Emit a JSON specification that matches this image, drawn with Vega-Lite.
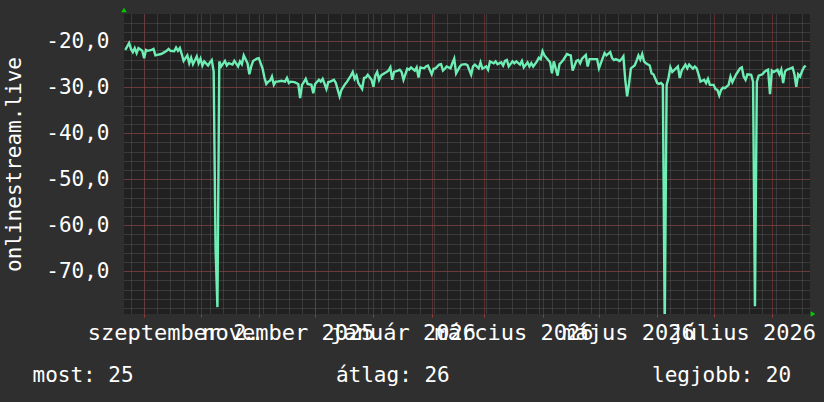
{
  "$schema": "https://vega.github.io/schema/vega-lite/v6.json",
  "width": 686,
  "height": 300,
  "autosize": "none",
  "padding": {"left": 124, "top": 14, "right": 14, "bottom": 88},
  "background": "#2f2f2f",
  "config": {
    "view": {"fill": "#212121", "stroke": null},
    "axis": {
      "domain": false,
      "labelFont": "DejaVu Sans Mono",
      "titleFont": "DejaVu Sans Mono",
      "labelColor": "#ffffff",
      "titleColor": "#ffffff",
      "labelFontSize": 21,
      "titleFontSize": 21,
      "titleFontWeight": "normal",
      "labelFontWeight": "normal",
      "ticks": false,
      "tickSize": 0,
      "labels": false,
      "grid": false,
      "title": null
    }
  },
  "resolve": {"axis": {"x": "independent", "y": "independent"}},
  "layer": [
    {
      "data": {
        "values": [
          {"t": "2025-08-22", "v": -21.9}, {"t": "2025-08-24", "v": -20.4}, {"t": "2025-08-25", "v": -21.7}, {"t": "2025-08-26", "v": -22.4},
          {"t": "2025-08-27", "v": -21.5}, {"t": "2025-08-28", "v": -22.6}, {"t": "2025-08-29", "v": -21.5}, {"t": "2025-08-31", "v": -22.1},
          {"t": "2025-09-01", "v": -23.7}, {"t": "2025-09-02", "v": -21.9}, {"t": "2025-09-03", "v": -22.1}, {"t": "2025-09-05", "v": -21.9},
          {"t": "2025-09-06", "v": -21.7}, {"t": "2025-09-07", "v": -23.1}, {"t": "2025-09-08", "v": -23.0}, {"t": "2025-09-10", "v": -22.8},
          {"t": "2025-09-11", "v": -22.6}, {"t": "2025-09-13", "v": -22.1}, {"t": "2025-09-14", "v": -21.7}, {"t": "2025-09-15", "v": -22.1},
          {"t": "2025-09-17", "v": -22.2}, {"t": "2025-09-18", "v": -21.4}, {"t": "2025-09-19", "v": -22.1}, {"t": "2025-09-20", "v": -21.5},
          {"t": "2025-09-21", "v": -22.8}, {"t": "2025-09-22", "v": -24.3}, {"t": "2025-09-24", "v": -23.1}, {"t": "2025-09-25", "v": -24.8},
          {"t": "2025-09-26", "v": -23.6}, {"t": "2025-09-27", "v": -25.0}, {"t": "2025-09-29", "v": -23.3}, {"t": "2025-09-30", "v": -24.8},
          {"t": "2025-10-01", "v": -23.8}, {"t": "2025-10-02", "v": -25.3}, {"t": "2025-10-03", "v": -24.4}, {"t": "2025-10-05", "v": -25.3},
          {"t": "2025-10-06", "v": -24.6}, {"t": "2025-10-07", "v": -24.1}, {"t": "2025-10-08", "v": -26.6}, {"t": "2025-10-09", "v": -65.0},
          {"t": "2025-10-10", "v": -77.8}, {"t": "2025-10-11", "v": -24.4}, {"t": "2025-10-12", "v": -25.5}, {"t": "2025-10-14", "v": -24.3},
          {"t": "2025-10-15", "v": -25.3}, {"t": "2025-10-16", "v": -24.8}, {"t": "2025-10-18", "v": -25.1}, {"t": "2025-10-19", "v": -24.3},
          {"t": "2025-10-21", "v": -25.5}, {"t": "2025-10-22", "v": -24.4}, {"t": "2025-10-23", "v": -25.0}, {"t": "2025-10-24", "v": -23.1},
          {"t": "2025-10-26", "v": -24.8}, {"t": "2025-10-27", "v": -27.2}, {"t": "2025-10-28", "v": -25.5}, {"t": "2025-10-29", "v": -24.3},
          {"t": "2025-10-31", "v": -23.8}, {"t": "2025-11-01", "v": -23.7}, {"t": "2025-11-03", "v": -25.9}, {"t": "2025-11-04", "v": -27.9},
          {"t": "2025-11-05", "v": -29.3}, {"t": "2025-11-06", "v": -28.8}, {"t": "2025-11-07", "v": -28.6}, {"t": "2025-11-08", "v": -27.7},
          {"t": "2025-11-09", "v": -29.5}, {"t": "2025-11-10", "v": -28.8}, {"t": "2025-11-11", "v": -28.8}, {"t": "2025-11-13", "v": -28.6},
          {"t": "2025-11-15", "v": -28.8}, {"t": "2025-11-16", "v": -28.0}, {"t": "2025-11-17", "v": -29.1}, {"t": "2025-11-18", "v": -28.8},
          {"t": "2025-11-20", "v": -28.9}, {"t": "2025-11-22", "v": -29.3}, {"t": "2025-11-23", "v": -32.4}, {"t": "2025-11-24", "v": -29.5},
          {"t": "2025-11-25", "v": -28.9}, {"t": "2025-11-26", "v": -28.2}, {"t": "2025-11-27", "v": -29.3}, {"t": "2025-11-29", "v": -29.5},
          {"t": "2025-11-30", "v": -31.3}, {"t": "2025-12-01", "v": -29.3}, {"t": "2025-12-03", "v": -28.4}, {"t": "2025-12-04", "v": -28.8},
          {"t": "2025-12-05", "v": -28.2}, {"t": "2025-12-07", "v": -30.4}, {"t": "2025-12-08", "v": -28.9}, {"t": "2025-12-09", "v": -28.8},
          {"t": "2025-12-11", "v": -28.4}, {"t": "2025-12-12", "v": -29.1}, {"t": "2025-12-14", "v": -32.0}, {"t": "2025-12-15", "v": -30.6},
          {"t": "2025-12-17", "v": -29.3}, {"t": "2025-12-18", "v": -28.8}, {"t": "2025-12-20", "v": -27.5}, {"t": "2025-12-21", "v": -26.7},
          {"t": "2025-12-22", "v": -28.2}, {"t": "2025-12-23", "v": -27.5}, {"t": "2025-12-24", "v": -29.1}, {"t": "2025-12-26", "v": -30.4},
          {"t": "2025-12-27", "v": -28.0}, {"t": "2025-12-28", "v": -27.9}, {"t": "2025-12-29", "v": -27.3}, {"t": "2025-12-31", "v": -28.4},
          {"t": "2026-01-01", "v": -29.9}, {"t": "2026-01-02", "v": -27.5}, {"t": "2026-01-03", "v": -26.7}, {"t": "2026-01-04", "v": -28.4},
          {"t": "2026-01-05", "v": -27.5}, {"t": "2026-01-06", "v": -27.2}, {"t": "2026-01-08", "v": -26.7}, {"t": "2026-01-09", "v": -26.4},
          {"t": "2026-01-10", "v": -25.7}, {"t": "2026-01-11", "v": -28.4}, {"t": "2026-01-12", "v": -26.7}, {"t": "2026-01-14", "v": -26.4},
          {"t": "2026-01-15", "v": -26.2}, {"t": "2026-01-16", "v": -26.7}, {"t": "2026-01-17", "v": -28.4}, {"t": "2026-01-19", "v": -26.0},
          {"t": "2026-01-20", "v": -26.2}, {"t": "2026-01-21", "v": -25.7}, {"t": "2026-01-23", "v": -26.4}, {"t": "2026-01-24", "v": -25.7},
          {"t": "2026-01-25", "v": -27.9}, {"t": "2026-01-26", "v": -25.7}, {"t": "2026-01-28", "v": -25.9}, {"t": "2026-01-29", "v": -25.5},
          {"t": "2026-01-30", "v": -25.3}, {"t": "2026-02-01", "v": -27.2}, {"t": "2026-02-02", "v": -26.0}, {"t": "2026-02-03", "v": -25.9},
          {"t": "2026-02-05", "v": -25.1}, {"t": "2026-02-06", "v": -25.0}, {"t": "2026-02-07", "v": -26.4}, {"t": "2026-02-08", "v": -26.0},
          {"t": "2026-02-09", "v": -25.5}, {"t": "2026-02-11", "v": -25.9}, {"t": "2026-02-12", "v": -24.8}, {"t": "2026-02-13", "v": -23.8},
          {"t": "2026-02-14", "v": -27.0}, {"t": "2026-02-16", "v": -25.5}, {"t": "2026-02-17", "v": -25.1}, {"t": "2026-02-19", "v": -25.0},
          {"t": "2026-02-20", "v": -25.2}, {"t": "2026-02-22", "v": -27.3}, {"t": "2026-02-23", "v": -25.5}, {"t": "2026-02-24", "v": -25.1},
          {"t": "2026-02-26", "v": -25.9}, {"t": "2026-02-27", "v": -24.6}, {"t": "2026-02-28", "v": -26.0}, {"t": "2026-03-02", "v": -25.5},
          {"t": "2026-03-03", "v": -26.2}, {"t": "2026-03-04", "v": -24.4}, {"t": "2026-03-06", "v": -24.8}, {"t": "2026-03-07", "v": -24.4},
          {"t": "2026-03-08", "v": -25.0}, {"t": "2026-03-10", "v": -24.6}, {"t": "2026-03-11", "v": -25.3}, {"t": "2026-03-12", "v": -24.3},
          {"t": "2026-03-13", "v": -24.1}, {"t": "2026-03-14", "v": -25.5}, {"t": "2026-03-16", "v": -24.4}, {"t": "2026-03-17", "v": -24.8},
          {"t": "2026-03-18", "v": -24.4}, {"t": "2026-03-20", "v": -25.1}, {"t": "2026-03-21", "v": -24.3}, {"t": "2026-03-22", "v": -25.7},
          {"t": "2026-03-24", "v": -24.6}, {"t": "2026-03-25", "v": -25.5}, {"t": "2026-03-26", "v": -24.8}, {"t": "2026-03-27", "v": -25.5},
          {"t": "2026-03-29", "v": -24.4}, {"t": "2026-03-30", "v": -23.6}, {"t": "2026-03-31", "v": -23.9}, {"t": "2026-04-01", "v": -22.2},
          {"t": "2026-04-02", "v": -23.1}, {"t": "2026-04-04", "v": -24.1}, {"t": "2026-04-05", "v": -24.6}, {"t": "2026-04-06", "v": -27.0},
          {"t": "2026-04-07", "v": -24.4}, {"t": "2026-04-09", "v": -27.5}, {"t": "2026-04-10", "v": -25.0}, {"t": "2026-04-11", "v": -24.6},
          {"t": "2026-04-12", "v": -24.1}, {"t": "2026-04-14", "v": -22.8}, {"t": "2026-04-15", "v": -23.0}, {"t": "2026-04-16", "v": -23.1},
          {"t": "2026-04-17", "v": -26.4}, {"t": "2026-04-19", "v": -24.3}, {"t": "2026-04-20", "v": -24.1}, {"t": "2026-04-21", "v": -24.8},
          {"t": "2026-04-22", "v": -23.8}, {"t": "2026-04-24", "v": -23.0}, {"t": "2026-04-25", "v": -25.5}, {"t": "2026-04-26", "v": -23.9},
          {"t": "2026-04-27", "v": -23.9}, {"t": "2026-04-29", "v": -23.9}, {"t": "2026-04-30", "v": -23.9}, {"t": "2026-05-01", "v": -25.9},
          {"t": "2026-05-03", "v": -23.7}, {"t": "2026-05-04", "v": -22.6}, {"t": "2026-05-05", "v": -23.1}, {"t": "2026-05-07", "v": -22.4},
          {"t": "2026-05-08", "v": -23.7}, {"t": "2026-05-09", "v": -24.1}, {"t": "2026-05-10", "v": -23.9}, {"t": "2026-05-12", "v": -24.3},
          {"t": "2026-05-13", "v": -23.9}, {"t": "2026-05-14", "v": -23.3}, {"t": "2026-05-15", "v": -28.4}, {"t": "2026-05-16", "v": -32.0},
          {"t": "2026-05-17", "v": -29.3}, {"t": "2026-05-18", "v": -25.9}, {"t": "2026-05-20", "v": -25.3}, {"t": "2026-05-21", "v": -24.3},
          {"t": "2026-05-22", "v": -23.1}, {"t": "2026-05-23", "v": -24.0}, {"t": "2026-05-24", "v": -22.8}, {"t": "2026-05-25", "v": -24.4},
          {"t": "2026-05-26", "v": -24.8}, {"t": "2026-05-28", "v": -25.3}, {"t": "2026-05-29", "v": -27.0}, {"t": "2026-05-30", "v": -27.2},
          {"t": "2026-06-01", "v": -29.1}, {"t": "2026-06-02", "v": -29.3}, {"t": "2026-06-03", "v": -29.1}, {"t": "2026-06-04", "v": -29.5},
          {"t": "2026-06-05", "v": -82.0}, {"t": "2026-06-06", "v": -29.5}, {"t": "2026-06-07", "v": -28.0}, {"t": "2026-06-08", "v": -25.7},
          {"t": "2026-06-09", "v": -26.7}, {"t": "2026-06-11", "v": -25.9}, {"t": "2026-06-12", "v": -25.5}, {"t": "2026-06-13", "v": -28.0},
          {"t": "2026-06-14", "v": -26.4}, {"t": "2026-06-16", "v": -25.1}, {"t": "2026-06-17", "v": -25.9}, {"t": "2026-06-18", "v": -25.1},
          {"t": "2026-06-20", "v": -26.0}, {"t": "2026-06-21", "v": -25.5}, {"t": "2026-06-22", "v": -25.9}, {"t": "2026-06-23", "v": -27.2},
          {"t": "2026-06-24", "v": -28.8}, {"t": "2026-06-26", "v": -28.4}, {"t": "2026-06-27", "v": -29.1}, {"t": "2026-06-28", "v": -28.2},
          {"t": "2026-06-29", "v": -29.5}, {"t": "2026-07-01", "v": -29.5}, {"t": "2026-07-02", "v": -30.4}, {"t": "2026-07-03", "v": -30.6},
          {"t": "2026-07-04", "v": -31.8}, {"t": "2026-07-05", "v": -30.6}, {"t": "2026-07-06", "v": -30.1}, {"t": "2026-07-07", "v": -30.2},
          {"t": "2026-07-09", "v": -29.5}, {"t": "2026-07-10", "v": -27.7}, {"t": "2026-07-11", "v": -28.9}, {"t": "2026-07-13", "v": -27.2},
          {"t": "2026-07-14", "v": -26.6}, {"t": "2026-07-15", "v": -25.9}, {"t": "2026-07-16", "v": -25.7}, {"t": "2026-07-17", "v": -27.7},
          {"t": "2026-07-18", "v": -28.4}, {"t": "2026-07-19", "v": -27.2}, {"t": "2026-07-21", "v": -27.3}, {"t": "2026-07-22", "v": -28.8},
          {"t": "2026-07-23", "v": -77.6}, {"t": "2026-07-24", "v": -28.8}, {"t": "2026-07-25", "v": -27.5}, {"t": "2026-07-27", "v": -27.2},
          {"t": "2026-07-28", "v": -26.7}, {"t": "2026-07-29", "v": -26.4}, {"t": "2026-07-30", "v": -26.2}, {"t": "2026-07-31", "v": -31.5},
          {"t": "2026-08-01", "v": -26.4}, {"t": "2026-08-02", "v": -26.7}, {"t": "2026-08-04", "v": -26.2}, {"t": "2026-08-05", "v": -27.2},
          {"t": "2026-08-06", "v": -26.2}, {"t": "2026-08-07", "v": -29.1}, {"t": "2026-08-08", "v": -26.6}, {"t": "2026-08-09", "v": -26.2},
          {"t": "2026-08-11", "v": -25.9}, {"t": "2026-08-12", "v": -25.7}, {"t": "2026-08-13", "v": -27.2}, {"t": "2026-08-14", "v": -29.9},
          {"t": "2026-08-15", "v": -27.2}, {"t": "2026-08-16", "v": -27.7}, {"t": "2026-08-17", "v": -26.6}, {"t": "2026-08-18", "v": -25.7},
          {"t": "2026-08-19", "v": -25.3}
        ]
      },
      "mark": {"type": "line", "color": "#6eeeb4", "strokeWidth": 2.4, "clip": true},
      "encoding": {
        "x": {
          "field": "t",
          "type": "temporal",
          "scale": {
            "type": "utc",
            "domain": [
              {"year": 2025, "month": 8, "date": 21, "hours": 7, "utc": true},
              {"year": 2026, "month": 8, "date": 21, "hours": 7, "utc": true}
            ]
          },
          "axis": {
            "orient": "bottom",
            "grid": true,
            "gridColor": "#555555",
            "gridDash": [1, 1],
            "values": [
              {"year": 2025, "month": 8, "date": 25, "utc": true},
              {"year": 2025, "month": 9, "date": 1, "utc": true}, {"year": 2025, "month": 9, "date": 8, "utc": true}, {"year": 2025, "month": 9, "date": 15, "utc": true}, {"year": 2025, "month": 9, "date": 22, "utc": true}, {"year": 2025, "month": 9, "date": 29, "utc": true},
              {"year": 2025, "month": 10, "date": 6, "utc": true}, {"year": 2025, "month": 10, "date": 13, "utc": true}, {"year": 2025, "month": 10, "date": 20, "utc": true}, {"year": 2025, "month": 10, "date": 27, "utc": true},
              {"year": 2025, "month": 11, "date": 3, "utc": true}, {"year": 2025, "month": 11, "date": 10, "utc": true}, {"year": 2025, "month": 11, "date": 17, "utc": true}, {"year": 2025, "month": 11, "date": 24, "utc": true},
              {"year": 2025, "month": 12, "date": 1, "utc": true}, {"year": 2025, "month": 12, "date": 8, "utc": true}, {"year": 2025, "month": 12, "date": 15, "utc": true}, {"year": 2025, "month": 12, "date": 22, "utc": true}, {"year": 2025, "month": 12, "date": 29, "utc": true},
              {"year": 2026, "month": 1, "date": 5, "utc": true}, {"year": 2026, "month": 1, "date": 12, "utc": true}, {"year": 2026, "month": 1, "date": 19, "utc": true}, {"year": 2026, "month": 1, "date": 26, "utc": true},
              {"year": 2026, "month": 2, "date": 2, "utc": true}, {"year": 2026, "month": 2, "date": 9, "utc": true}, {"year": 2026, "month": 2, "date": 16, "utc": true}, {"year": 2026, "month": 2, "date": 23, "utc": true},
              {"year": 2026, "month": 3, "date": 2, "utc": true}, {"year": 2026, "month": 3, "date": 9, "utc": true}, {"year": 2026, "month": 3, "date": 16, "utc": true}, {"year": 2026, "month": 3, "date": 23, "utc": true}, {"year": 2026, "month": 3, "date": 30, "utc": true},
              {"year": 2026, "month": 4, "date": 6, "utc": true}, {"year": 2026, "month": 4, "date": 13, "utc": true}, {"year": 2026, "month": 4, "date": 20, "utc": true}, {"year": 2026, "month": 4, "date": 27, "utc": true},
              {"year": 2026, "month": 5, "date": 4, "utc": true}, {"year": 2026, "month": 5, "date": 11, "utc": true}, {"year": 2026, "month": 5, "date": 18, "utc": true}, {"year": 2026, "month": 5, "date": 25, "utc": true},
              {"year": 2026, "month": 6, "date": 1, "utc": true}, {"year": 2026, "month": 6, "date": 8, "utc": true}, {"year": 2026, "month": 6, "date": 15, "utc": true}, {"year": 2026, "month": 6, "date": 22, "utc": true}, {"year": 2026, "month": 6, "date": 29, "utc": true},
              {"year": 2026, "month": 7, "date": 6, "utc": true}, {"year": 2026, "month": 7, "date": 13, "utc": true}, {"year": 2026, "month": 7, "date": 20, "utc": true}, {"year": 2026, "month": 7, "date": 27, "utc": true},
              {"year": 2026, "month": 8, "date": 3, "utc": true}, {"year": 2026, "month": 8, "date": 10, "utc": true}, {"year": 2026, "month": 8, "date": 17, "utc": true}
            ]
          }
        },
        "y": {
          "field": "v",
          "type": "quantitative",
          "scale": {"domain": [-79.3, -14.1], "nice": false, "zero": false},
          "axis": {
            "orient": "left",
            "grid": true,
            "gridColor": "#555555",
            "gridDash": [1, 1],
            "values": [-78, -76, -74, -72, -70, -68, -66, -64, -62, -60, -58, -56, -54, -52, -50, -48, -46, -44, -42, -40, -38, -36, -34, -32, -30, -28, -26, -24, -22, -20, -18, -16]
          }
        }
      }
    },
    {
      "data": {"values": [{}]},
      "mark": {"type": "point", "shape": "triangle-up", "filled": true, "color": "#00cc00", "opacity": 1, "size": 30, "yOffset": -4, "clip": false},
      "encoding": {
        "x": {
          "datum": {"year": 2025, "month": 8, "date": 21, "hours": 7, "utc": true},
          "type": "temporal",
          "axis": {
            "orient": "bottom",
            "grid": true,
            "gridColor": "#9a3c3c",
            "gridDash": [1, 1],
            "ticks": true,
            "tickSize": 3,
            "tickColor": "#9a3c3c",
            "values": [
              {"year": 2025, "month": 9, "date": 1, "utc": true}, {"year": 2025, "month": 10, "date": 1, "utc": true}, {"year": 2025, "month": 11, "date": 1, "utc": true}, {"year": 2025, "month": 12, "date": 1, "utc": true},
              {"year": 2026, "month": 1, "date": 1, "utc": true}, {"year": 2026, "month": 2, "date": 1, "utc": true}, {"year": 2026, "month": 3, "date": 1, "utc": true}, {"year": 2026, "month": 4, "date": 1, "utc": true},
              {"year": 2026, "month": 5, "date": 1, "utc": true}, {"year": 2026, "month": 6, "date": 1, "utc": true}, {"year": 2026, "month": 7, "date": 1, "utc": true}, {"year": 2026, "month": 8, "date": 1, "utc": true}
            ]
          }
        },
        "y": {
          "datum": -14.1,
          "type": "quantitative",
          "axis": {
            "orient": "left",
            "grid": true,
            "gridColor": "#9a3c3c",
            "gridDash": [1, 1],
            "labels": true,
            "labelAlign": "right",
            "labelBaseline": "middle",
            "labelPadding": 15,
            "values": [-70, -60, -50, -40, -30, -20],
            "labelExpr": "'-' + replace(format(abs(datum.value), '.1f'), '.', ',')",
            "title": "onlinestream.live",
            "titleAngle": -90,
            "titleAlign": "center",
            "titleBaseline": "alphabetic",
            "titleX": -104,
            "titleY": 150
          }
        }
      }
    },
    {
      "data": {"values": [{}]},
      "mark": {"type": "point", "shape": "triangle-right", "filled": true, "color": "#00cc00", "opacity": 1, "size": 30, "xOffset": 3, "clip": false},
      "encoding": {
        "x": {
          "datum": {"year": 2026, "month": 8, "date": 21, "hours": 7, "utc": true},
          "type": "temporal",
          "axis": {
            "orient": "bottom",
            "labels": true,
            "labelFontSize": 22,
            "labelAlign": "center",
            "labelBaseline": "alphabetic",
            "labelPadding": 25,
            "labelOverlap": false,
            "labelFlush": false,
            "labelBound": false,
            "values": [
              {"year": 2025, "month": 9, "date": 16, "hours": 12, "utc": true}, {"year": 2025, "month": 11, "date": 16, "hours": 12, "utc": true},
              {"year": 2026, "month": 1, "date": 16, "hours": 12, "utc": true}, {"year": 2026, "month": 3, "date": 16, "hours": 12, "utc": true},
              {"year": 2026, "month": 5, "date": 16, "hours": 12, "utc": true}, {"year": 2026, "month": 7, "date": 16, "hours": 12, "utc": true}
            ],
            "labelExpr": "['január','február','március','április','május','június','július','augusztus','szeptember','október','november','december'][utcmonth(datum.value)] + ' ' + utcyear(datum.value)",
            "title": "most: 25\u00a0\u00a0\u00a0\u00a0\u00a0\u00a0\u00a0\u00a0\u00a0\u00a0\u00a0\u00a0\u00a0\u00a0\u00a0\u00a0átlag: 26\u00a0\u00a0\u00a0\u00a0\u00a0\u00a0\u00a0\u00a0\u00a0\u00a0\u00a0\u00a0\u00a0\u00a0\u00a0\u00a0legjobb: 20",
            "titleAnchor": "start",
            "titleAlign": "left",
            "titleBaseline": "alphabetic",
            "titleX": -92,
            "titleY": 67
          }
        },
        "y": {"datum": -79.3, "type": "quantitative", "axis": null}
      }
    }
  ]
}
